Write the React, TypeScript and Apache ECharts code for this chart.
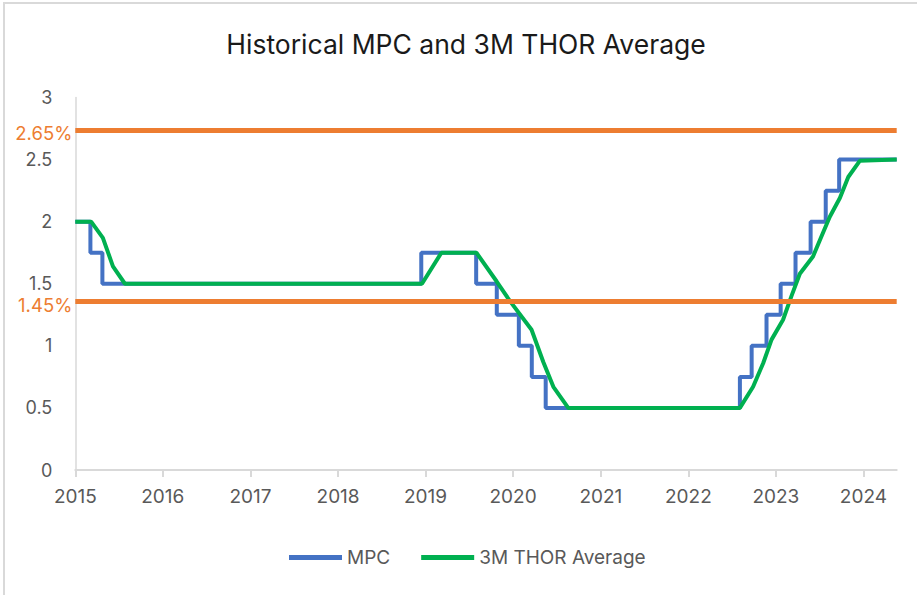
import React, { useEffect, useRef } from "react";
import * as echarts from "echarts";

const TITLE = "Historical MPC and 3M THOR Average";

// MPC policy rate: change dates and new levels
const mpcDates = [
  "2015-01-01", "2015-03-05", "2015-04-24", "2018-12-14", "2019-07-31",
  "2019-10-25", "2020-01-25", "2020-03-19", "2020-05-16", "2022-08-04",
  "2022-09-22", "2022-11-23", "2023-01-21", "2023-03-24", "2023-05-26",
  "2023-07-28", "2023-09-22", "2024-05-19",
];
const mpcValues = [
  2.0, 1.75, 1.5, 1.75, 1.5, 1.25, 1.0, 0.75, 0.5, 0.75, 1.0, 1.25, 1.5,
  1.75, 2.0, 2.25, 2.5, 2.5,
];

// 3M THOR average
const thorDates = [
  "2015-01-01", "2015-03-08", "2015-04-26", "2015-06-07", "2015-07-27",
  "2018-12-17", "2019-03-08", "2019-08-01", "2019-10-24", "2019-12-19",
  "2020-03-18", "2020-05-06", "2020-06-17", "2020-08-18", "2022-08-04",
  "2022-09-28", "2022-11-09", "2022-12-14", "2023-01-31", "2023-03-07",
  "2023-04-11", "2023-06-05", "2023-07-10", "2023-08-14", "2023-09-25",
  "2023-10-30", "2023-12-17", "2024-05-19",
];
const thorValues = [
  2.0, 2.0, 1.87, 1.64, 1.5, 1.5, 1.75, 1.75, 1.52, 1.36, 1.13, 0.87, 0.67,
  0.5, 0.5, 0.67, 0.86, 1.05, 1.21, 1.4, 1.58, 1.72, 1.88, 2.04, 2.19, 2.36,
  2.49, 2.5,
];

// Orange reference lines (label text and drawn level)
const refLabels = ["2.65%", "1.45%"];
const refLevels = [2.74, 1.36];

const xMin = "2015-01-01";
const xMax = "2024-05-19";

const FONT = "Inter";
const GRAY = "#595959";
const AXIS = "#d9d9d9";
const BLUE = "#4472C4";
const GREEN = "#00B050";
const ORANGE = "#ED7D31";

export default function App() {
  const ref = useRef<HTMLDivElement>(null);

  useEffect(() => {
    if (!ref.current) return;
    const chart = echarts.init(ref.current, undefined, { renderer: "svg" });
    const mpcData = mpcDates.map((d, i) => [d, mpcValues[i]]);
    const thorData = thorDates.map((d, i) => [d, thorValues[i]]);

    chart.setOption({
      animation: false,
      backgroundColor: "#ffffff",
      textStyle: { fontFamily: FONT },
      title: {
        text: TITLE,
        left: 461,
        textAlign: "center",
        top: 25,
        textStyle: {
          fontFamily: FONT,
          fontSize: 26.5,
          fontWeight: "normal",
          color: "#1a1a1a",
        },
      },
      graphic: [
        {
          type: "rect",
          silent: true,
          shape: { x: 4, y: 3, width: 1000, height: 1000 },
          style: { fill: "none", stroke: AXIS, lineWidth: 2 },
        },
      ],
      legend: {
        left: 289,
        top: 548,
        padding: 0,
        icon: "rect",
        itemWidth: 53,
        itemHeight: 5,
        itemGap: 31,
        textStyle: { fontFamily: FONT, fontSize: 19, color: GRAY },
        data: ["MPC", "3M THOR Average"],
      },
      grid: { left: 75.3, right: 20.3, top: 97.5, bottom: 125 },
      xAxis: {
        type: "time",
        min: xMin,
        max: xMax,
        minInterval: 365 * 86400000,
        maxInterval: 366 * 86400000,
        splitLine: { show: false },
        axisLine: { show: true, lineStyle: { color: AXIS, width: 2 } },
        axisTick: { show: true, length: 7, lineStyle: { color: AXIS, width: 2 } },
        axisLabel: {
          fontFamily: FONT,
          fontSize: 19,
          color: GRAY,
          margin: 17,
          showMinLabel: true,
          showMaxLabel: false,
          formatter: (val: number) => String(new Date(val).getFullYear()),
        },
      },
      yAxis: {
        type: "value",
        min: 0,
        max: 3,
        interval: 0.5,
        splitLine: { show: false },
        axisLine: { show: true, lineStyle: { color: AXIS, width: 1.5 } },
        axisTick: { show: false },
        axisLabel: {
          fontFamily: FONT,
          fontSize: 18,
          color: GRAY,
          margin: 23,
          padding: [0, 0, 3, 0],
        },
      },
      series: [
        {
          name: "MPC",
          type: "line",
          step: "end",
          data: mpcData,
          showSymbol: false,
          symbol: "none",
          lineStyle: { color: BLUE, width: 4 },
          itemStyle: { color: BLUE },
          z: 2,
        },
        {
          name: "3M THOR Average",
          type: "line",
          data: thorData,
          showSymbol: false,
          symbol: "none",
          lineStyle: { color: GREEN, width: 4 },
          itemStyle: { color: GREEN },
          z: 4,
        },
        {
          name: "ref",
          type: "line",
          data: [],
          z: 3,
          markLine: {
            silent: true,
            symbol: "none",
            lineStyle: { color: ORANGE, width: 5, type: "solid" },
            label: {
              show: true,
              position: "start",
              distance: 3,
              offset: [0, 3.5],
              color: ORANGE,
              fontFamily: FONT,
              fontSize: 18.5,
              formatter: (p: any) => refLabels[p.dataIndex],
            },
            data: refLevels.map((v) => ({ yAxis: v })),
          },
        },
      ],
    });
    return () => chart.dispose();
  }, []);

  return (
    <div
      ref={ref}
      style={{
        position: "fixed",
        left: 0,
        top: 0,
        width: 917,
        height: 595,
        background: "#fff",
      }}
    />
  );
}
